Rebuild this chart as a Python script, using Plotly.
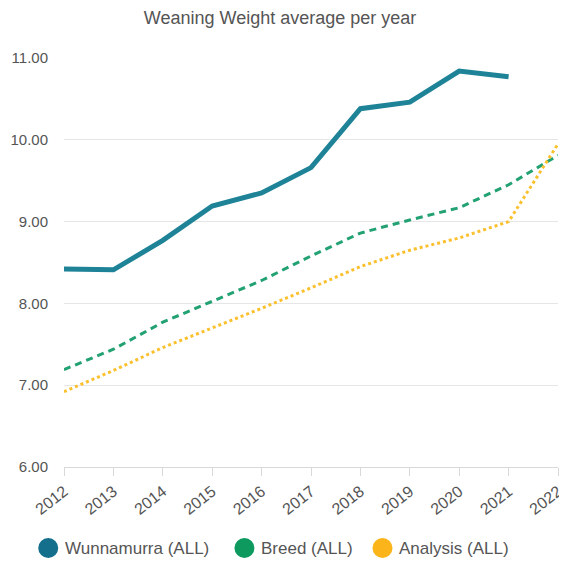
import plotly.graph_objects as go

years = [2012, 2013, 2014, 2015, 2016, 2017, 2018, 2019, 2020, 2021, 2022]
wunnamurra = [8.42, 8.41, 8.77, 9.19, 9.35, 9.66, 10.38, 10.46, 10.84, 10.77, None]
breed = [7.19, 7.44, 7.77, 8.02, 8.28, 8.58, 8.86, 9.02, 9.17, 9.45, 9.81]
analysis = [6.92, 7.18, 7.46, 7.70, 7.94, 8.19, 8.45, 8.65, 8.80, 9.00, 9.95]
y_ticks = [6, 7, 8, 9, 10, 11]

names = ["Wunnamurra (ALL)", "Breed (ALL)", "Analysis (ALL)"]
line_colors = ["#1f8398", "#22a172", "#fbc02d"]
legend_colors = ["#136f8c", "#0e9a5f", "#fbb51a"]

W, H = 559, 555
L, R, T, B = 56, 2, 50, 96
PW, PH = W - L - R, H - T - B

fig = go.Figure()
fig.add_trace(go.Scatter(x=years, y=wunnamurra, mode="lines", showlegend=False,
                         line=dict(color=line_colors[0], width=5), name=names[0]))
fig.add_trace(go.Scatter(x=years, y=breed, mode="lines", showlegend=False,
                         line=dict(color=line_colors[1], width=3, dash="7px,5px"), name=names[1]))
fig.add_trace(go.Scatter(x=years, y=analysis, mode="lines", showlegend=False,
                         line=dict(color=line_colors[2], width=3, dash="3px,3px"), name=names[2]))

# custom legend (circles + labels), positioned in pixels
legend_circle_px = [40, 239, 379]
legend_text_px = [55, 254, 394]
legend_y_px = 540
ly = (H - B - legend_y_px) / PH
for n, c, cx, tx in zip(names, legend_colors, legend_circle_px, legend_text_px):
    fig.add_shape(type="circle", xref="paper", yref="paper",
                  xsizemode="pixel", ysizemode="pixel",
                  xanchor=(cx - L) / PW, yanchor=ly,
                  x0=-10, x1=10, y0=-10, y1=10,
                  fillcolor=c, line=dict(width=0))
    fig.add_annotation(text=n, xref="paper", yref="paper", x=(tx - L) / PW, y=ly,
                       xanchor="left", yanchor="middle", showarrow=False,
                       font=dict(size=17, color="#555555"))

fig.update_layout(
    width=W, height=H,
    margin=dict(l=L, r=R, t=T, b=B),
    paper_bgcolor="white", plot_bgcolor="white",
    font=dict(family="Liberation Sans, Arial, sans-serif", color="#555555", size=15),
    title=dict(text="Weaning Weight average per year", x=272 / W, xref="container",
               xanchor="center", y=1 - 3 / H, yref="container", yanchor="top",
               pad=dict(t=0, b=0, l=0, r=0),
               font=dict(size=18, color="#555555")),
    showlegend=False,
)
fig.update_xaxes(range=[2012, 2022], tickvals=years, ticktext=[str(y) for y in years],
                 tickangle=-38, showgrid=False, showline=True, linecolor="#d9d9d9",
                 linewidth=1, ticks="outside", ticklen=8, tickcolor="#d9d9d9",
                 ticklabeloverflow="allow",
                 tickfont=dict(size=16, color="#555555"), zeroline=False)
fig.update_yaxes(range=[6, 11], tickvals=y_ticks, tickformat=".2f", showgrid=True,
                 gridcolor="#e6e6e6", gridwidth=1, showline=False, zeroline=False,
                 ticks="", ticklabelstandoff=15,
                 tickfont=dict(size=15, color="#555555"))

fig.write_html("out.html")
